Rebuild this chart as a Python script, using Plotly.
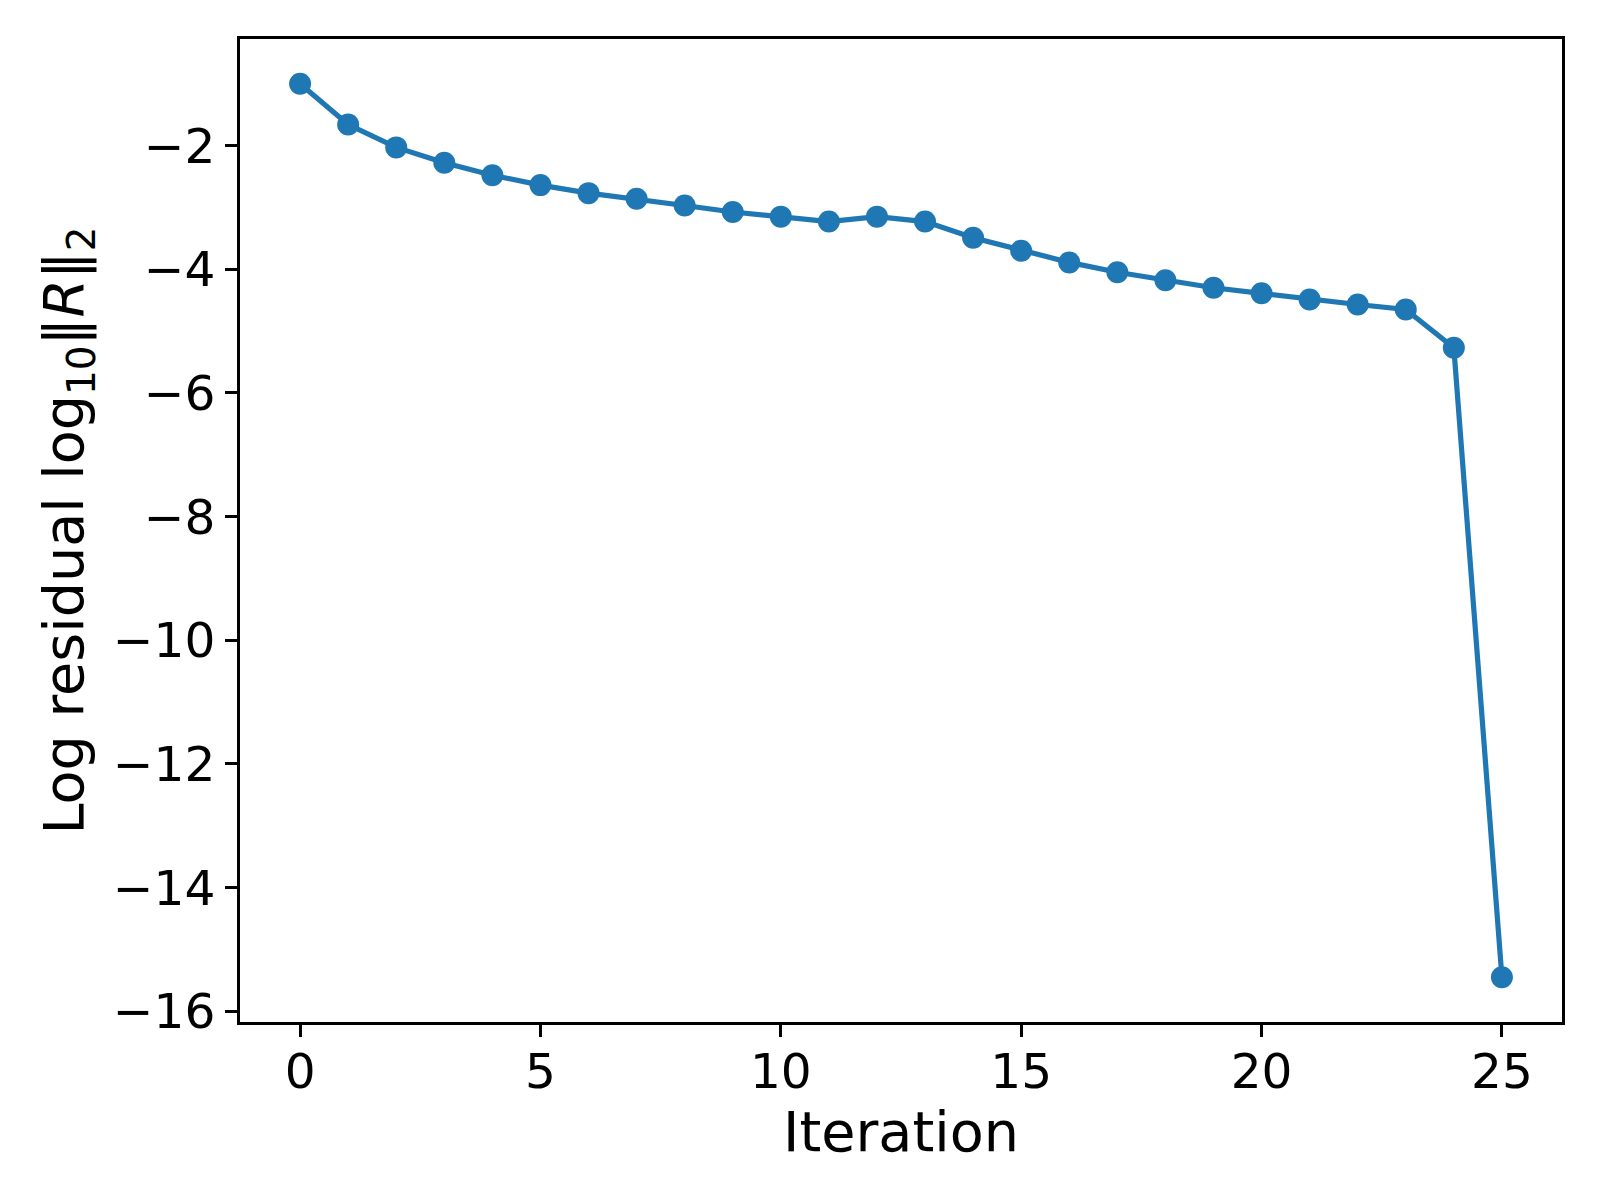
import plotly.graph_objects as go

iterations = list(range(26))
log_residual = [-1.00, -1.66, -2.03, -2.28, -2.48, -2.64, -2.77, -2.86, -2.97, -3.075,
                -3.15, -3.23, -3.15, -3.23, -3.49, -3.70, -3.89, -4.05, -4.18, -4.30,
                -4.39, -4.49, -4.57, -4.65, -5.27, -15.45]

x_ticks = [0, 5, 10, 15, 20, 25]
y_ticks = [-2, -4, -6, -8, -10, -12, -14, -16]
y_ticktext = ["\u2212" + str(abs(v)) for v in y_ticks]

FONT = "DejaVu Sans"
TICK_SIZE = 48.6
LABEL_SIZE = 55.6
color = "#1f77b4"

fig = go.Figure()
fig.add_trace(go.Scatter(
    x=iterations, y=log_residual, mode="lines+markers",
    line=dict(color=color, width=5.2),
    marker=dict(color=color, size=22, line=dict(width=0)),
    showlegend=False,
))

xmin, xmax = min(iterations), max(iterations)
ymin, ymax = min(log_residual), max(log_residual)
xpad = (xmax - xmin) * 0.05
ypad = (ymax - ymin) * 0.05

axis_common = dict(
    showline=True, linecolor="black", linewidth=2.8, mirror=True,
    ticks="outside", ticklen=12, tickwidth=2.8, tickcolor="black",
    showgrid=False, zeroline=False,
    tickfont=dict(family=FONT, size=TICK_SIZE, color="black"),
)

fig.update_layout(
    width=1600, height=1200,
    paper_bgcolor="white", plot_bgcolor="white",
    margin=dict(l=232, r=46, t=31, b=186, autoexpand=False),
    font=dict(family=FONT, color="black"),
    xaxis=dict(
        range=[xmin - xpad, xmax + xpad],
        tickvals=x_ticks, ticktext=[str(v) for v in x_ticks],
        ticklabelstandoff=-7,
        title=dict(text="Iteration", font=dict(family=FONT, size=LABEL_SIZE), standoff=8),
        automargin=False,
        **axis_common,
    ),
    yaxis=dict(
        range=[ymin - ypad, ymax + ypad],
        tickvals=y_ticks, ticktext=y_ticktext,
        ticklabelstandoff=0,
        title=dict(text="Log residual log<sub>10</sub>\u2016<i>R</i>\u2016<sub>2</sub>",
                   font=dict(family=FONT, size=LABEL_SIZE), standoff=12),
        automargin=False,
        **axis_common,
    ),
)

fig.write_html("out.html")
